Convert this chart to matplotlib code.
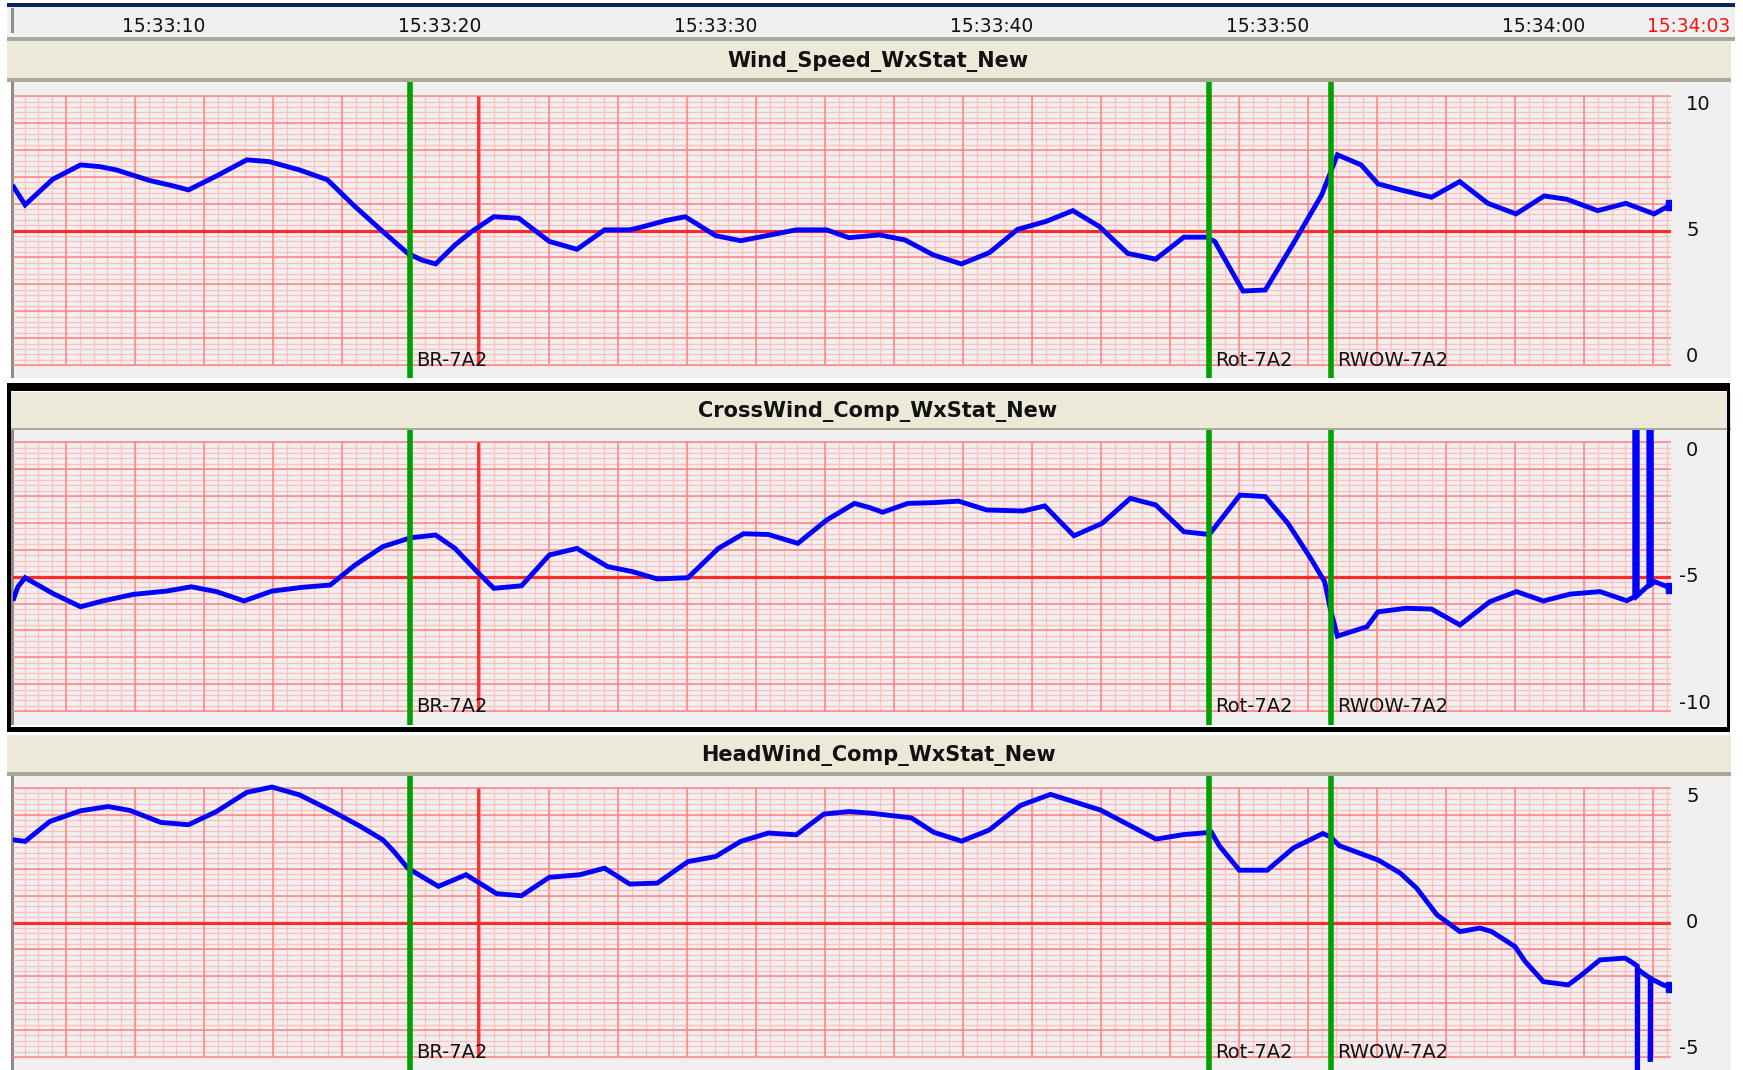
import matplotlib
matplotlib.use('Agg')
import matplotlib.pyplot as plt
from matplotlib.patches import Rectangle
import numpy as np

plt.rcParams['font.family'] = ['DejaVu Sans']

# ---- data (time in s after 15:33:00) ----
time_ticks = [10, 20, 30, 40, 50, 60]
time_labels = ['15:33:10', '15:33:20', '15:33:30', '15:33:40', '15:33:50', '15:34:00']
now_label = '15:34:03'

events = [18.92, 47.88, 52.28]
event_names = ['BR-7A2', 'Rot-7A2', 'RWOW-7A2']
cursor_t = 21.41

titles = ['Wind_Speed_WxStat_New', 'CrossWind_Comp_WxStat_New', 'HeadWind_Comp_WxStat_New']
centers = [5, -5, 0]
yticks = [[10, 5, 0], [0, -5, -10], [5, 0, -5]]

t_speed = [4.58, 4.99, 5.99, 7.00, 7.70, 8.30, 9.51, 10.31, 10.91, 11.92, 13.02, 13.83,
           14.93, 15.94, 16.94, 17.95, 18.85, 19.35, 19.86, 20.56, 21.16, 21.97, 22.87,
           23.98, 24.98, 25.98, 26.89, 27.39, 28.20, 28.90, 30.00, 30.91, 31.81, 32.92,
           34.02, 34.83, 35.23, 35.94, 36.86, 37.88, 38.90, 39.92, 40.94, 41.96, 42.94,
           43.90, 44.92, 45.94, 46.96, 47.77, 48.08, 49.10, 49.91, 50.93, 51.95, 52.26,
           52.52, 53.38, 53.99, 54.81, 55.93, 56.95, 57.97, 58.99, 60.01, 60.83, 61.95,
           62.97, 63.99, 64.59]
v_speed = [6.72, 6.02, 7.03, 7.60, 7.53, 7.40, 6.98, 6.78, 6.61, 7.16, 7.80, 7.73,
           7.40, 7.01, 5.95, 4.96, 4.10, 3.84, 3.68, 4.43, 4.96, 5.55, 5.49,
           4.57, 4.26, 5.03, 5.03, 5.16, 5.40, 5.55, 4.80, 4.60, 4.79, 5.03,
           5.03, 4.72, 4.76, 4.83, 4.63, 4.04, 3.68, 4.13, 5.05, 5.36, 5.79,
           5.16, 4.10, 3.87, 4.74, 4.74, 4.57, 2.61, 2.65, 4.50, 6.41, 7.27,
           8.00, 7.60, 6.85, 6.61, 6.32, 6.94, 6.08, 5.66, 6.37, 6.24, 5.79,
           6.08, 5.66, 6.02]

t_cross = [4.58, 4.73, 4.99, 5.99, 7.00, 7.80, 8.91, 10.11, 11.01, 11.92, 12.92, 13.93,
           15.03, 16.04, 16.94, 17.95, 18.95, 19.86, 20.56, 21.36, 21.97, 22.97, 23.98,
           24.98, 26.09, 26.99, 27.89, 29.00, 30.10, 31.01, 31.91, 32.98, 34.02, 35.03,
           35.59, 36.05, 36.96, 37.88, 38.80, 39.82, 41.14, 41.92, 42.98, 44.00, 45.02,
           45.94, 46.96, 47.88, 48.99, 49.91, 50.73, 51.55, 52.06, 52.26, 52.52, 53.59,
           53.99, 55.01, 55.93, 56.96, 58.04, 59.01, 59.98, 60.94, 62.03, 63.00, 63.29,
           63.29, 63.38, 63.38, 63.80, 63.80, 63.89, 63.89, 64.02, 64.32, 64.59]
v_cross = [-5.86, -5.40, -5.04, -5.66, -6.19, -5.96, -5.70, -5.57, -5.40, -5.59, -5.96, -5.57,
           -5.42, -5.33, -4.54, -3.81, -3.46, -3.35, -3.88, -4.80, -5.46, -5.36, -4.14,
           -3.88, -4.60, -4.80, -5.09, -5.04, -3.88, -3.30, -3.33, -3.68, -2.76, -2.10,
           -2.27, -2.45, -2.10, -2.07, -2.01, -2.36, -2.40, -2.20, -3.38, -2.89, -1.90,
           -2.16, -3.22, -3.33, -1.77, -1.83, -2.89, -4.27, -5.20, -6.25, -7.35, -6.98,
           -6.39, -6.25, -6.28, -6.91, -5.99, -5.59, -5.96, -5.69, -5.59, -5.95, -5.79,
           10.0, 10.0, -5.75, -5.33, 10.0, 10.0, -5.30, -5.20, -5.33, -5.46]

t_head = [4.58, 4.99, 5.89, 7.00, 8.00, 8.80, 9.91, 10.91, 11.92, 13.02, 13.93, 14.93,
          16.14, 17.14, 17.95, 18.35, 18.85, 19.96, 20.96, 21.36, 22.07, 22.97, 23.98,
          25.08, 25.98, 26.89, 27.89, 29.00, 30.00, 30.91, 31.91, 32.92, 33.92, 34.83,
          35.59, 37.09, 37.90, 38.91, 39.91, 41.04, 42.13, 43.94, 45.95, 46.96, 47.96,
          48.24, 48.97, 49.98, 50.93, 51.99, 52.27, 52.59, 54.00, 54.79, 55.39, 56.12,
          56.96, 57.68, 58.11, 58.95, 59.32, 59.98, 60.88, 61.37, 62.03, 62.94, 63.24,
          63.38, 63.38, 63.40, 63.72, 63.85, 63.85, 63.87, 63.96, 64.32, 64.59]
v_head = [3.27, 3.21, 4.00, 4.42, 4.59, 4.43, 3.96, 3.87, 4.39, 5.15, 5.36, 5.05,
          4.39, 3.80, 3.27, 2.81, 2.15, 1.43, 1.89, 1.62, 1.14, 1.06, 1.79,
          1.89, 2.15, 1.52, 1.56, 2.41, 2.61, 3.21, 3.54, 3.47, 4.29, 4.39,
          4.33, 4.14, 3.57, 3.22, 3.66, 4.63, 5.07, 4.45, 3.30, 3.48, 3.57,
          3.04, 2.07, 2.07, 2.95, 3.52, 3.39, 3.04, 2.47, 1.96, 1.36, 0.31,
          -0.36, -0.22, -0.36, -0.95, -1.54, -2.34, -2.47, -2.07, -1.48, -1.41, -1.61,
          -1.72, -15.0, -1.85, -2.11, -2.20, -5.50, -2.22, -2.27, -2.47, -2.56]

series = [(t_speed, v_speed), (t_cross, v_cross), (t_head, v_head)]

# ---- layout, pixels of the 1743x1070 frame ----
W, H = 1743, 1070
GX0, GX1 = 13.3, 1670.7          # grid left / right
T10_PX, PX_PER_S = 163.4, 27.61  # where 15:33:10 sits, px per second
PX_PER_UNIT = 25.27
HALF_GRID = 5.32
panels = [  # title top, title bottom, plot top, plot bottom, grid middle
    (40.7, 78.3, 81.7, 378.0, 230.6),
    (391.7, 428.3, 430.0, 725.0, 576.7),
    (735.0, 772.0, 776.0, 1070.0, 922.5),
]


def t_of(px):
    return 10 + (px - T10_PX) / PX_PER_S


def box(x0, y0, x1, y1, color):
    fig.add_artist(Rectangle((x0 / W, 1 - y1 / H), (x1 - x0) / W, (y1 - y0) / H,
                             transform=fig.transFigure, facecolor=color,
                             edgecolor='none', zorder=-5))


fig = plt.figure(figsize=(W / 100, H / 100), dpi=100)
fig.patch.set_facecolor('white')
xlim = (t_of(GX0), t_of(GX1))

# time bar
box(7, 2.7, 1735, 6.7, '#0B2461')
box(7, 6.7, 1735, 36.7, '#F0F0F0')
box(10.7, 8, 13.8, 33, '#8E8C84')
box(7, 36.7, 1735, 40.7, '#A8A8A0')
tax = fig.add_axes([GX0 / W, 1 - 36.7 / H, (GX1 - GX0) / W, 30 / H])
tax.set_xlim(xlim)
tax.set_ylim(36.7, 6.7)
tax.axis('off')
for t, lab in zip(time_ticks, time_labels):
    tax.text(t, 32.3, lab, ha='center', va='baseline', fontsize=13.4, color='#111111')
fig.text(1730 / W, 1 - 32.3 / H, now_label, ha='right', va='baseline',
         fontsize=13.4, color='#FF1010')

for i, (tt, tb, pt, pb, gm) in enumerate(panels):
    box(7, tt, 1731, tb, '#ECE9D8')
    box(7, tb, 1731, pt, '#ACA899')
    box(10.7, pt, 1731, pb, '#F0F0F0')
    box(10.7, pt, 13.8, pb, '#8E8C84')
    fig.text(878 / W, 1 - (tb - (tb - tt) / 2 + 7.5) / H, titles[i], ha='center',
             va='baseline', fontsize=15, fontweight='bold', color='#111111')

    c = centers[i]
    ax = fig.add_axes([GX0 / W, 1 - pb / H, (GX1 - GX0) / W, (pb - pt) / H])
    ax.set_xlim(xlim)
    ax.set_ylim(c - (pb - gm) / PX_PER_UNIT, c + (gm - pt) / PX_PER_UNIT)
    ax.axis('off')

    lo, hi = c - HALF_GRID, c + HALF_GRID
    # chart paper
    minor_x = [t_of(px) for px in np.arange(24.6, GX1, 13.8)]
    major_x = [t_of(px) for px in np.arange(66.0, GX1, 69.0)]
    ax.vlines(minor_x, lo, hi, colors='#FFBFBF', lw=0.9, zorder=1)
    ax.hlines(np.linspace(lo, hi, 51), xlim[0], xlim[1], colors='#FFBFBF', lw=0.9, zorder=1)
    ax.vlines(major_x, lo, hi, colors='#FF8585', lw=1.1, zorder=2)
    ax.hlines(np.linspace(lo, hi, 11), xlim[0], xlim[1], colors='#FF8585', lw=1.1, zorder=2)
    ax.axhline(c, color='#FF2A2A', lw=2.3, zorder=3)
    ax.vlines([cursor_t], lo, hi, colors='#FF2A2A', lw=2.0, zorder=3)

    # data
    t, v = series[i]
    ax.plot(t, v, color='#0000FF', lw=3.5, solid_joinstyle='miter', zorder=5)
    ax.plot(t[-1:], v[-1:], 's', color='#0000FF', ms=7, zorder=5)

    # event markers
    for te, name in zip(events, event_names):
        ax.axvline(te, color='#00A000', lw=4.0, zorder=6)
        ax.text(te + 6 / PX_PER_S, lo - 1 / PX_PER_UNIT, name, ha='left', va='baseline',
                fontsize=14, color='#111111', zorder=7)

    # value scale on the right
    for val in yticks[i]:
        xf = (1686 - GX0 if val >= 0 else 1679 - GX0) / (GX1 - GX0)
        ax.text(xf, val, str(val), transform=ax.get_yaxis_transform(), ha='left',
                va='center', fontsize=14, color='#111111', clip_on=False)

# selected panel frame
box(7.3, 383.3, 1730, 390.7, '#000000')
box(7.3, 726.7, 1730, 732.3, '#000000')
box(7.3, 383.3, 10.7, 732.3, '#000000')
box(1726.5, 383.3, 1730, 732.3, '#000000')

fig.savefig('out.png', dpi=100, facecolor='white')
